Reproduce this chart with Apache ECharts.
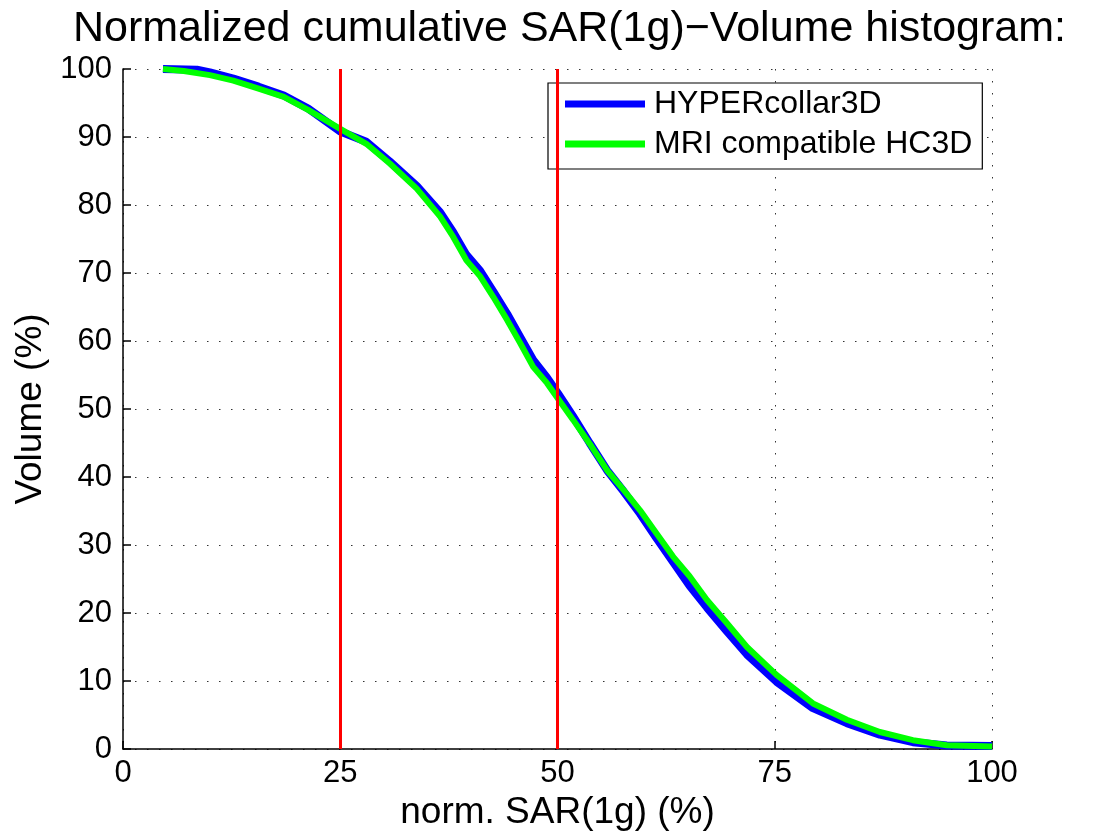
<!DOCTYPE html>
<html>
<head>
<meta charset="utf-8">
<style>
  html, body { margin: 0; padding: 0; background: #fff; }
  #main { width: 1095px; height: 839px; }
</style>
<script src="https://cdn.jsdelivr.net/npm/echarts@6/dist/echarts.min.js"></script>
</head>
<body>
<div id="main"></div>
<script>
// x = norm. SAR(1g) (%), y = Volume (%)
var hcX = [4.6, 8.5, 10, 12.7, 15.6, 18.5, 21.3, 25, 28, 30.7, 33.8, 36.5, 38, 39.5, 41.1, 42.6, 44.2, 45.7, 47.2, 48.8, 50, 51.8, 53.7, 55.7, 57.6, 59.5, 61.4, 63.3, 65.2, 67.2, 69.5, 71.8, 75.2, 79.4, 83.3, 87.1, 90.9, 94.8, 100];
var hcY = [100, 99.9, 99.5, 98.6, 97.4, 96.1, 94.2, 90.8, 89.3, 86.4, 82.8, 78.9, 76.0, 72.7, 70.3, 67.3, 64.0, 60.6, 57.2, 54.6, 52.4, 48.9, 45.0, 41.0, 37.9, 34.6, 31.0, 27.5, 24.0, 20.8, 17.3, 13.9, 9.9, 6.0, 3.8, 2.1, 1.0, 0.5, 0.45];

var mriX = [4.6, 7, 10, 12.7, 15.6, 18.5, 21.3, 25, 28, 30.7, 33.8, 36.5, 38, 39.5, 41.1, 42.6, 44.2, 45.7, 47.2, 48.8, 50, 51.8, 53.7, 55.7, 57.6, 59.5, 61.4, 63.3, 65.2, 67.2, 69.5, 71.8, 75.2, 79.4, 83.3, 87.1, 90.9, 94.8, 100];
var mriY = [100, 99.7, 99.1, 98.3, 97.1, 95.9, 94.0, 91.2, 89.0, 86.1, 82.4, 78.3, 75.3, 71.9, 69.5, 66.5, 63.1, 59.7, 56.2, 53.8, 51.6, 48.4, 44.9, 41.0, 38.1, 35.1, 31.7, 28.3, 25.4, 21.9, 18.5, 15.0, 10.9, 6.7, 4.3, 2.5, 1.3, 0.55, 0.35];

var redLines = [25, 50];
var xTicks = [0, 25, 50, 75, 100];

var font = 'Liberation Sans, Arial, Helvetica, sans-serif';

function pairs(xs, ys) {
  return xs.map(function (x, i) { return [x, ys[i]]; });
}

var chart = echarts.init(document.getElementById('main'));

var dotted = { color: '#333', width: 1, type: [1.5, 10.5] };

var option = {
  animation: false,
  backgroundColor: '#fff',
  textStyle: { fontFamily: font },
  title: {
    text: 'Normalized cumulative SAR(1g)\u2212Volume histogram:',
    left: 68,
    top: 3,
    textStyle: { fontFamily: font, fontSize: 43, fontWeight: 'normal', color: '#000' }
  },
  legend: {
    orient: 'vertical',
    left: 548,
    top: 83,
    padding: [5, 10, 9, 17],
    itemGap: 8,
    itemWidth: 80,
    itemHeight: 7,
    icon: 'rect',
    borderColor: '#000',
    borderWidth: 1.2,
    backgroundColor: '#fff',
    borderRadius: 0,
    textStyle: { fontFamily: font, fontSize: 32, color: '#000', lineHeight: 32, padding: [0, 0, 0, 4] },
    data: ['HYPERcollar3D', 'MRI compatible HC3D']
  },
  grid: { left: 123, right: 103, top: 69, bottom: 90, containLabel: false },
  xAxis: {
    type: 'value',
    min: 0,
    max: 100,
    interval: 25,
    name: 'norm. SAR(1g) (%)',
    nameLocation: 'middle',
    nameGap: 35,
    nameTextStyle: { fontFamily: font, fontSize: 37, color: '#000' },
    axisLine: { onZero: false, lineStyle: { color: '#000', width: 1.5 } },
    axisTick: { inside: true, length: 8, lineStyle: { color: '#000', width: 1.5 } },
    axisLabel: { fontFamily: font, fontSize: 31, color: '#000', margin: 9,
      customValues: xTicks },
    splitLine: { show: true, lineStyle: dotted }
  },
  yAxis: {
    type: 'value',
    min: 0,
    max: 100,
    interval: 10,
    name: 'Volume (%)',
    nameLocation: 'middle',
    nameGap: 68,
    nameTextStyle: { fontFamily: font, fontSize: 37, color: '#000' },
    axisLine: { show: true, onZero: false, lineStyle: { color: '#000', width: 1.5 } },
    axisTick: { show: true, inside: true, length: 8, lineStyle: { color: '#000', width: 1.5 } },
    axisLabel: { fontFamily: font, fontSize: 31, color: '#000', margin: 11 },
    splitLine: { show: true, lineStyle: dotted }
  },
  series: [
    {
      name: 'HYPERcollar3D',
      type: 'line',
      data: pairs(hcX, hcY),
      showSymbol: false,
      symbol: 'none',
      color: '#0000ff',
      lineStyle: { color: '#0000ff', width: 8 },
      z: 3
    },
    {
      name: 'MRI compatible HC3D',
      type: 'line',
      data: pairs(mriX, mriY),
      showSymbol: false,
      symbol: 'none',
      color: '#00ff00',
      lineStyle: { color: '#00ff00', width: 6 },
      z: 4,
      markLine: {
        silent: true,
        symbol: 'none',
        label: { show: false },
        lineStyle: { color: '#ff0000', width: 3, type: 'solid' },
        data: redLines.map(function (v) { return { xAxis: v }; })
      }
    }
  ]
};

chart.setOption(option);
</script>
</body>
</html>
